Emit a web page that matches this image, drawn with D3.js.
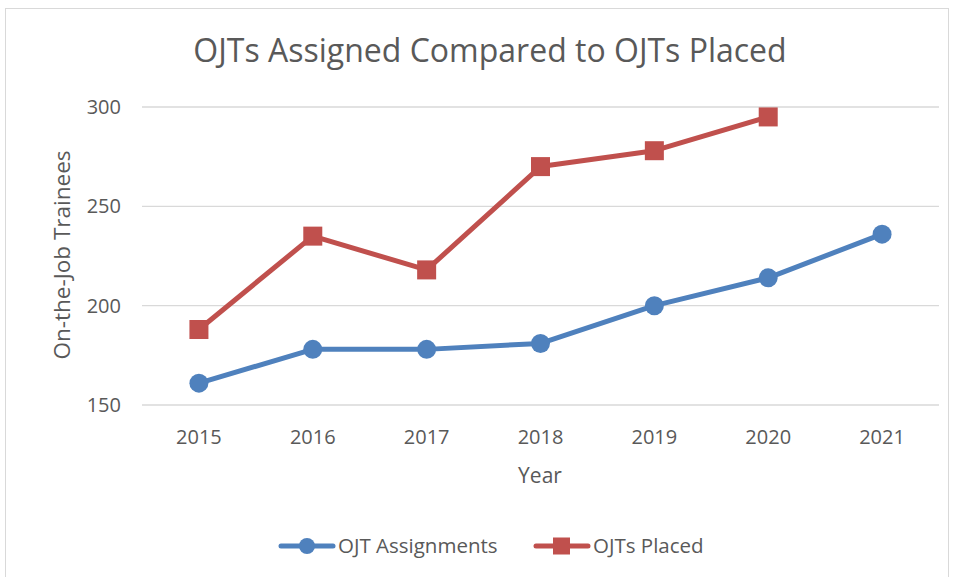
<!DOCTYPE html>
<html>
<head>
<meta charset="utf-8">
<script src="https://cdn.jsdelivr.net/npm/d3@7"></script>
<style>
  body { margin: 0; background: #fff; }
  text { font-family: "Open Sans", "Noto Sans", sans-serif; fill: #595959; }
</style>
</head>
<body>
<svg id="chart" width="954" height="577"></svg>
<script>
const years = ["2015", "2016", "2017", "2018", "2019", "2020", "2021"];
const assignments = [161, 178, 178, 181, 200, 214, 236];
const placed = [188, 235, 218, 270, 278, 295];
const yTicks = [150, 200, 250, 300];

const blue = "#4f81bd";
const red = "#c0504d";

const svg = d3.select("#chart");
const margin = { top: 107, right: 15, bottom: 172, left: 142 };
const width = 954, height = 577;

// chart frame
svg.append("rect")
    .attr("x", 5.5).attr("y", 8.5)
    .attr("width", 943).attr("height", 580)
    .attr("fill", "#fff")
    .attr("stroke", "#d9d9d9");

const x = d3.scaleBand()
    .domain(years)
    .range([margin.left, width - margin.right]);

const y = d3.scaleLinear()
    .domain([150, 300])
    .range([height - margin.bottom, margin.top]);

const cx = d => x(d) + x.bandwidth() / 2;

// gridlines
svg.append("g")
    .selectAll("line")
    .data(yTicks)
    .enter().append("line")
    .attr("x1", margin.left).attr("x2", width - margin.right)
    .attr("y1", d => y(d)).attr("y2", d => y(d))
    .attr("stroke", "#d9d9d9")
    .attr("stroke-width", 1.3);

// y tick labels
svg.append("g")
    .selectAll("text")
    .data(yTicks)
    .enter().append("text")
    .attr("x", 121)
    .attr("y", d => y(d))
    .attr("dy", "0.35em")
    .attr("text-anchor", "end")
    .style("font-size", "20px")
    .text(d => d);

// x tick labels
svg.append("g")
    .selectAll("text")
    .data(years)
    .enter().append("text")
    .attr("x", d => cx(d))
    .attr("y", 444)
    .attr("text-anchor", "middle")
    .style("font-size", "20px")
    .text(d => d);

// titles
svg.append("text")
    .attr("x", 490).attr("y", 62)
    .attr("text-anchor", "middle")
    .style("font-size", "32px")
    .text("OJTs Assigned Compared to OJTs Placed");

svg.append("text")
    .attr("x", 540).attr("y", 483)
    .attr("text-anchor", "middle")
    .style("font-size", "21px")
    .text("Year");

svg.append("text")
    .attr("transform", "translate(70,255) rotate(-90)")
    .attr("text-anchor", "middle")
    .style("font-size", "22.5px")
    .text("On-the-Job Trainees");

// series
const line = d3.line()
    .x((d, i) => cx(years[i]))
    .y(d => y(d));

svg.append("path")
    .datum(assignments)
    .attr("d", line)
    .attr("fill", "none")
    .attr("stroke", blue)
    .attr("stroke-width", 5)
    .attr("stroke-linejoin", "round")
    .attr("stroke-linecap", "round");

svg.append("path")
    .datum(placed)
    .attr("d", line)
    .attr("fill", "none")
    .attr("stroke", red)
    .attr("stroke-width", 5)
    .attr("stroke-linejoin", "round")
    .attr("stroke-linecap", "round");

svg.append("g")
    .selectAll("circle")
    .data(assignments)
    .enter().append("circle")
    .attr("cx", (d, i) => cx(years[i]))
    .attr("cy", d => y(d))
    .attr("r", 9.5)
    .attr("fill", blue);

svg.append("g")
    .selectAll("rect")
    .data(placed)
    .enter().append("rect")
    .attr("x", (d, i) => cx(years[i]) - 9.5)
    .attr("y", d => y(d) - 9.5)
    .attr("width", 19)
    .attr("height", 19)
    .attr("fill", red);

// legend
const legendItems = [
    { label: "OJT Assignments", color: blue, shape: "circle", x: 281 },
    { label: "OJTs Placed", color: red, shape: "square", x: 536 }
];

const legend = svg.append("g")
    .selectAll("g")
    .data(legendItems)
    .enter().append("g")
    .attr("transform", d => `translate(${d.x},546)`);

legend.append("line")
    .attr("x1", 0).attr("x2", 52)
    .attr("stroke", d => d.color)
    .attr("stroke-width", 5)
    .attr("stroke-linecap", "round");

legend.filter(d => d.shape === "circle").append("circle")
    .attr("cx", 26).attr("r", 8)
    .attr("fill", d => d.color);

legend.filter(d => d.shape === "square").append("rect")
    .attr("x", 17).attr("y", -8.5)
    .attr("width", 17).attr("height", 17)
    .attr("fill", d => d.color);

legend.append("text")
    .attr("x", 57)
    .attr("dy", "0.35em")
    .style("font-size", "20.5px")
    .text(d => d.label);
</script>
</body>
</html>
